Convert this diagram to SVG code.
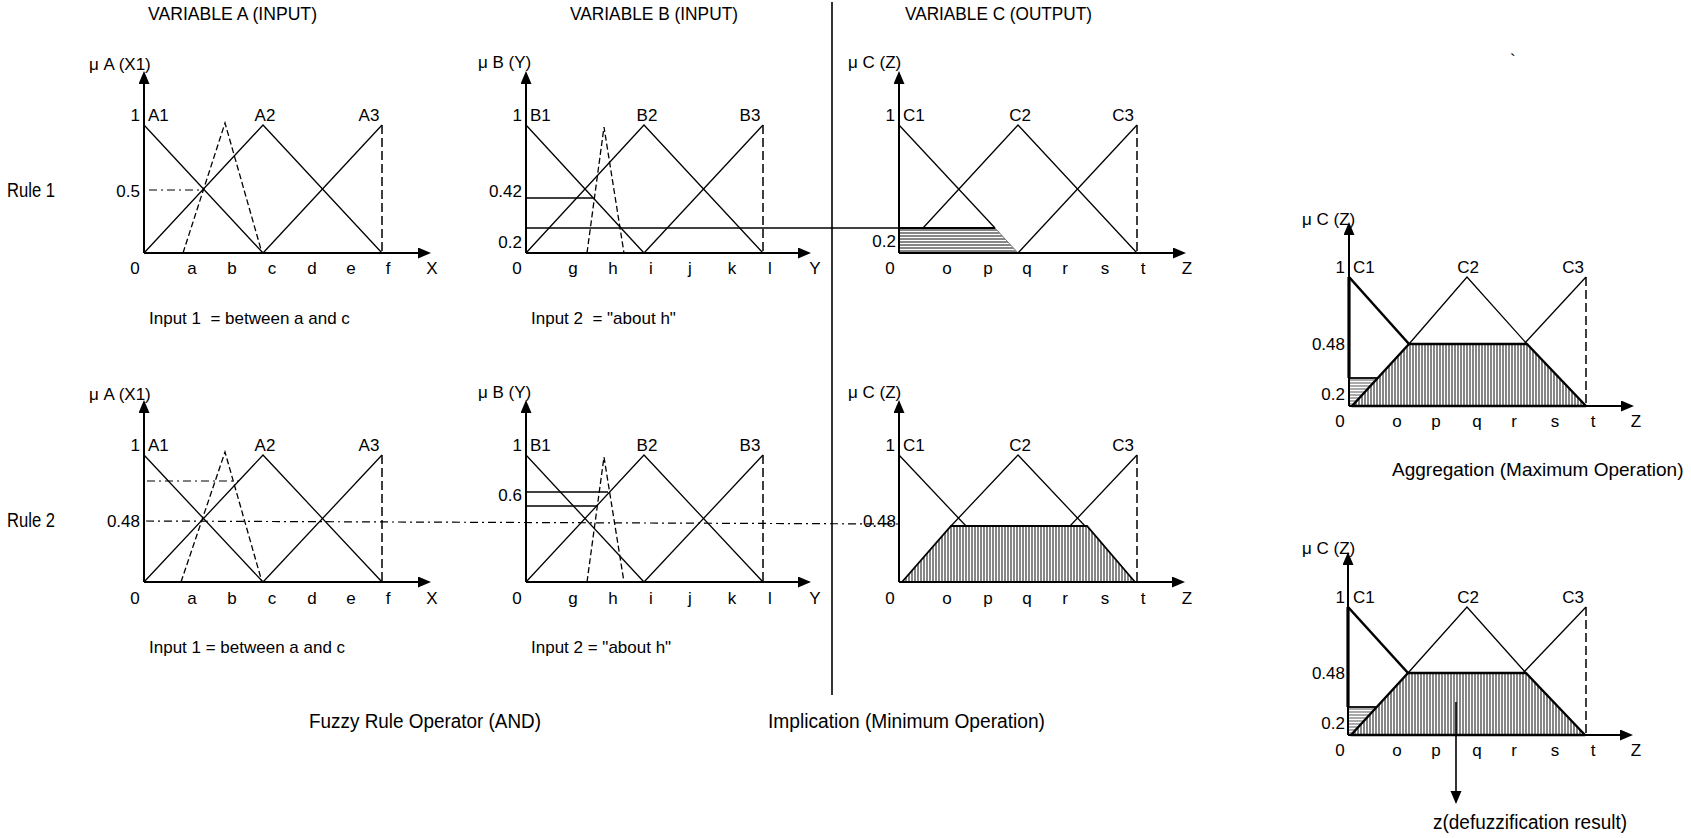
<svg xmlns="http://www.w3.org/2000/svg" width="1691" height="838" viewBox="0 0 1691 838">
  <style>
    text { font-family: "Liberation Sans", Arial, sans-serif; font-size: 17px; fill: #000; }
    .cap { font-size: 20px; }
    .cap19 { font-size: 19px; }
    .ttl { font-size: 18.5px; }
    .rule { font-size: 19.5px; }
    .e { text-anchor: end; }
    .m { text-anchor: middle; }
    .ax { stroke: #000; stroke-width: 2; fill: none; }
    .mf { stroke: #000; stroke-width: 1.3; fill: none; }
    .bold { stroke: #000; stroke-width: 2.6; fill: none; }
    .dsh { stroke: #000; stroke-width: 1.5; stroke-dasharray: 9 4; fill: none; }
    .inp { stroke: #000; stroke-width: 1.3; stroke-dasharray: 6 3; fill: none; }
    .dd { stroke: #000; stroke-width: 1.2; stroke-dasharray: 8 4 2 4; fill: none; }
    .lvl { stroke: #000; stroke-width: 1.3; fill: none; }
    .sep { stroke: #000; stroke-width: 1.6; }
  </style>
  <defs>
    <marker id="ah" markerUnits="userSpaceOnUse" markerWidth="14" markerHeight="12" refX="0" refY="5.5" orient="auto">
      <path d="M0,0 L13,5.5 L0,11 z" fill="#000"/>
    </marker>
    <pattern id="vhatch" width="3" height="10" patternUnits="userSpaceOnUse">
      <rect width="3" height="10" fill="#fff"/>
      <line x1="1" y1="0" x2="1" y2="10" stroke="#222" stroke-width="1.1"/>
    </pattern>
    <pattern id="hhatch" width="10" height="3" patternUnits="userSpaceOnUse">
      <rect width="10" height="3" fill="#fff"/>
      <line x1="0" y1="1" x2="10" y2="1" stroke="#222" stroke-width="1.1"/>
    </pattern>
    <pattern id="hhatch-light" width="10" height="3" patternUnits="userSpaceOnUse">
      <rect width="10" height="3" fill="#fff"/>
      <line x1="0" y1="1" x2="10" y2="1" stroke="#555" stroke-width="1"/>
    </pattern>
  </defs>

  <rect width="1691" height="838" fill="#fff"/>

  <!-- column headings and row labels -->
  <g id="headings">
    <text class="ttl" x="148" y="20" textLength="169" lengthAdjust="spacingAndGlyphs">VARIABLE A (INPUT)</text>
    <text class="ttl" x="570" y="20" textLength="168" lengthAdjust="spacingAndGlyphs">VARIABLE B (INPUT)</text>
    <text class="ttl" x="905" y="20" textLength="187" lengthAdjust="spacingAndGlyphs">VARIABLE C (OUTPUT)</text>
    <text x="1510" y="66">`</text>
    <text class="rule" x="7" y="197" textLength="48" lengthAdjust="spacingAndGlyphs">Rule 1</text>
    <text class="rule" x="7" y="527" textLength="48" lengthAdjust="spacingAndGlyphs">Rule 2</text>
  </g>

  <!-- separator between inputs and output -->
  <line class="sep" x1="832" y1="2" x2="832" y2="695"/>

  <!-- connectors carrying the rule strengths across charts -->
  <g id="connectors">
    <line class="lvl" x1="526" y1="228" x2="899" y2="228"/>
    <line class="dd" x1="146" y1="521" x2="899" y2="524"/>
  </g>

  <!-- Rule 1, variable A -->
  <g id="var-a-rule1" transform="translate(144,253)">
    <line class="ax" x1="0" y1="0" x2="0" y2="-169" marker-end="url(#ah)"/>
    <line class="ax" x1="0" y1="0" x2="274" y2="0" marker-end="url(#ah)"/>
    <polyline class="mf" points="0,-128 119,0"/>
    <polyline class="mf" points="0,0 119,-128 238,0"/>
    <polyline class="mf" points="119,0 238,-128"/>
    <line class="dsh" x1="238" y1="-128" x2="238" y2="0"/>
    <polyline class="inp" points="39,0 81,-130 118,0"/>
    <line class="dd" x1="5" y1="-63" x2="59" y2="-63"/>
    <text x="-55" y="-183">μ A (X1)</text>
    <text class="e" x="-4" y="-132">1</text>
    <text x="4" y="-132">A1</text>
    <text class="m" x="121" y="-132">A2</text>
    <text class="m" x="225" y="-132">A3</text>
    <text class="e" x="-4" y="-56">0.5</text>
    <text class="m" x="-9" y="21">0</text>
    <text class="m" x="48" y="21">a</text>
    <text class="m" x="88" y="21">b</text>
    <text class="m" x="128" y="21">c</text>
    <text class="m" x="168" y="21">d</text>
    <text class="m" x="207" y="21">e</text>
    <text class="m" x="244" y="21">f</text>
    <text class="m" x="288" y="21">X</text>
    <text x="5" y="71">Input 1 &#160;= between a and c</text>
  </g>

  <!-- Rule 1, variable B -->
  <g id="var-b-rule1" transform="translate(526,253)">
    <line class="ax" x1="0" y1="0" x2="0" y2="-169" marker-end="url(#ah)"/>
    <line class="ax" x1="0" y1="0" x2="272" y2="0" marker-end="url(#ah)"/>
    <polyline class="mf" points="0,-128 118,0"/>
    <polyline class="mf" points="0,0 118,-128 237,0"/>
    <polyline class="mf" points="118,0 237,-128"/>
    <line class="dsh" x1="237" y1="-128" x2="237" y2="0"/>
    <polyline class="inp" points="61,0 78,-126 98,0"/>
    <line class="lvl" x1="0" y1="-55" x2="67" y2="-55"/>
    <text x="-48" y="-185">μ B (Y)</text>
    <text class="e" x="-4" y="-132">1</text>
    <text x="4" y="-132">B1</text>
    <text class="m" x="121" y="-132">B2</text>
    <text class="m" x="224" y="-132">B3</text>
    <text class="e" x="-4" y="-56">0.42</text>
    <text class="e" x="-4" y="-5">0.2</text>
    <text class="m" x="-9" y="21">0</text>
    <text class="m" x="47" y="21">g</text>
    <text class="m" x="87" y="21">h</text>
    <text class="m" x="125" y="21">i</text>
    <text class="m" x="164" y="21">j</text>
    <text class="m" x="206" y="21">k</text>
    <text class="m" x="244" y="21">l</text>
    <text class="m" x="289" y="21">Y</text>
    <text x="5" y="71">Input 2 &#160;= "about h"</text>
  </g>

  <!-- Rule 1, variable C (clipped at 0.2) -->
  <g id="var-c-rule1" transform="translate(899,253)">
    <polygon points="0,-25 96,-25 119,0 0,0" fill="url(#hhatch)" stroke="#777" stroke-width="1"/>
    <line class="bold" x1="0" y1="-25" x2="96" y2="-25" style="stroke-width:1.8"/>
    <line class="ax" x1="0" y1="0" x2="0" y2="-169" marker-end="url(#ah)"/>
    <line class="ax" x1="0" y1="0" x2="274" y2="0" marker-end="url(#ah)"/>
    <polyline class="mf" points="0,-128 96,-25"/>
    <polyline class="mf" points="24,-25 119,-128 238,0"/>
    <polyline class="mf" points="119,0 238,-128"/>
    <line class="dsh" x1="238" y1="-128" x2="238" y2="0"/>
    <text x="-51" y="-185">μ C (Z)</text>
    <text class="e" x="-4" y="-132">1</text>
    <text x="4" y="-132">C1</text>
    <text class="m" x="121" y="-132">C2</text>
    <text class="m" x="224" y="-132">C3</text>
    <text class="e" x="-3" y="-6">0.2</text>
    <text class="m" x="-9" y="21">0</text>
    <text class="m" x="48" y="21">o</text>
    <text class="m" x="89" y="21">p</text>
    <text class="m" x="128" y="21">q</text>
    <text class="m" x="166" y="21">r</text>
    <text class="m" x="206" y="21">s</text>
    <text class="m" x="244" y="21">t</text>
    <text class="m" x="288" y="21">Z</text>
  </g>

  <!-- Rule 2, variable A -->
  <g id="var-a-rule2" transform="translate(144,582)">
    <line class="ax" x1="0" y1="0" x2="0" y2="-169" marker-end="url(#ah)"/>
    <line class="ax" x1="0" y1="0" x2="274" y2="0" marker-end="url(#ah)"/>
    <polyline class="mf" points="0,-127 119,0"/>
    <polyline class="mf" points="0,0 119,-127 238,0"/>
    <polyline class="mf" points="119,0 238,-127"/>
    <line class="dsh" x1="238" y1="-127" x2="238" y2="0"/>
    <polyline class="inp" points="37,0 81,-130 118,0"/>
    <line class="dd" x1="3" y1="-101" x2="95" y2="-101"/>
    <text x="-55" y="-182">μ A (X1)</text>
    <text class="e" x="-4" y="-131">1</text>
    <text x="4" y="-131">A1</text>
    <text class="m" x="121" y="-131">A2</text>
    <text class="m" x="225" y="-131">A3</text>
    <text class="e" x="-4" y="-55">0.48</text>
    <text class="m" x="-9" y="22">0</text>
    <text class="m" x="48" y="22">a</text>
    <text class="m" x="88" y="22">b</text>
    <text class="m" x="128" y="22">c</text>
    <text class="m" x="168" y="22">d</text>
    <text class="m" x="207" y="22">e</text>
    <text class="m" x="244" y="22">f</text>
    <text class="m" x="288" y="22">X</text>
    <text x="5" y="71">Input 1 = between a and c</text>
  </g>

  <!-- Rule 2, variable B -->
  <g id="var-b-rule2" transform="translate(526,582)">
    <line class="ax" x1="0" y1="0" x2="0" y2="-169" marker-end="url(#ah)"/>
    <line class="ax" x1="0" y1="0" x2="272" y2="0" marker-end="url(#ah)"/>
    <polyline class="mf" points="0,-127 118,0"/>
    <polyline class="mf" points="0,0 118,-127 237,0"/>
    <polyline class="mf" points="118,0 237,-127"/>
    <line class="dsh" x1="237" y1="-127" x2="237" y2="0"/>
    <polyline class="inp" points="61,0 78,-125 98,0"/>
    <line class="lvl" x1="0" y1="-90" x2="82" y2="-90"/>
    <line class="lvl" x1="0" y1="-76" x2="71" y2="-76"/>
    <text x="-48" y="-184">μ B (Y)</text>
    <text class="e" x="-4" y="-131">1</text>
    <text x="4" y="-131">B1</text>
    <text class="m" x="121" y="-131">B2</text>
    <text class="m" x="224" y="-131">B3</text>
    <text class="e" x="-4" y="-81">0.6</text>
    <text class="m" x="-9" y="22">0</text>
    <text class="m" x="47" y="22">g</text>
    <text class="m" x="87" y="22">h</text>
    <text class="m" x="125" y="22">i</text>
    <text class="m" x="164" y="22">j</text>
    <text class="m" x="206" y="22">k</text>
    <text class="m" x="244" y="22">l</text>
    <text class="m" x="289" y="22">Y</text>
    <text x="5" y="71">Input 2 = "about h"</text>
  </g>

  <!-- Rule 2, variable C (clipped at 0.48) -->
  <g id="var-c-rule2" transform="translate(899,582)">
    <polygon points="3,0 52,-56 188,-56 236,0" fill="url(#vhatch)" stroke="#000" stroke-width="1.8"/>
    <line class="ax" x1="0" y1="0" x2="0" y2="-169" marker-end="url(#ah)"/>
    <line class="ax" x1="0" y1="0" x2="273" y2="0" marker-end="url(#ah)"/>
    <polyline class="mf" points="0,-127 67,-56"/>
    <polyline class="mf" points="52,-56 119,-127 186,-56"/>
    <polyline class="mf" points="171,-56 238,-127"/>
    <line class="dsh" x1="238" y1="-127" x2="238" y2="0"/>
    <text x="-51" y="-184">μ C (Z)</text>
    <text class="e" x="-4" y="-131">1</text>
    <text x="4" y="-131">C1</text>
    <text class="m" x="121" y="-131">C2</text>
    <text class="m" x="224" y="-131">C3</text>
    <text class="e" x="-3" y="-55">0.48</text>
    <text class="m" x="-9" y="22">0</text>
    <text class="m" x="48" y="22">o</text>
    <text class="m" x="89" y="22">p</text>
    <text class="m" x="128" y="22">q</text>
    <text class="m" x="166" y="22">r</text>
    <text class="m" x="206" y="22">s</text>
    <text class="m" x="244" y="22">t</text>
    <text class="m" x="288" y="22">Z</text>
  </g>

  <!-- Aggregation of the clipped outputs -->
  <g id="aggregation" transform="translate(1349,406)">
    <polygon points="0,-28 28,-28 3,0 0,0" fill="url(#hhatch-light)"/>
    <line class="bold" x1="0" y1="-28" x2="28" y2="-28" style="stroke-width:1.8"/>
    <polygon points="3,0 60,-62 178,-62 237,0" fill="url(#vhatch)" stroke="#000" stroke-width="2.4" stroke-linejoin="round"/>
    <line class="ax" x1="0" y1="0" x2="0" y2="-171" marker-end="url(#ah)"/>
    <line class="ax" x1="0" y1="0" x2="272" y2="0" marker-end="url(#ah)"/>
    <line class="bold" x1="0" y1="-129" x2="0" y2="-28" style="stroke-width:3.2"/>
    <line class="bold" x1="0" y1="-129" x2="60" y2="-62"/>
    <polyline class="mf" points="60,-62 118,-129 178,-62"/>
    <polyline class="mf" points="175,-62 237,-129"/>
    <line class="dsh" x1="237" y1="-129" x2="237" y2="0"/>
    <text x="-47" y="-181">μ C (Z)</text>
    <text class="e" x="-4" y="-133">1</text>
    <text x="4" y="-133">C1</text>
    <text class="m" x="119" y="-133">C2</text>
    <text class="m" x="224" y="-133">C3</text>
    <text class="e" x="-4" y="-56">0.48</text>
    <text class="e" x="-4" y="-6">0.2</text>
    <text class="m" x="-9" y="21">0</text>
    <text class="m" x="48" y="21">o</text>
    <text class="m" x="87" y="21">p</text>
    <text class="m" x="128" y="21">q</text>
    <text class="m" x="165" y="21">r</text>
    <text class="m" x="206" y="21">s</text>
    <text class="m" x="244" y="21">t</text>
    <text class="m" x="287" y="21">Z</text>
    <text class="cap19" x="43" y="70">Aggregation (Maximum Operation)</text>
  </g>

  <!-- Defuzzification of the aggregated set -->
  <g id="defuzzification" transform="translate(1348,735)">
    <polygon points="0,-28 28,-28 3,0 0,0" fill="url(#hhatch-light)"/>
    <line class="bold" x1="0" y1="-28" x2="28" y2="-28" style="stroke-width:1.8"/>
    <polygon points="3,0 60,-62 178,-62 237,0" fill="url(#vhatch)" stroke="#000" stroke-width="2.4" stroke-linejoin="round"/>
    <line class="ax" x1="0" y1="0" x2="0" y2="-170" marker-end="url(#ah)"/>
    <line class="ax" x1="0" y1="0" x2="272" y2="0" marker-end="url(#ah)"/>
    <line class="bold" x1="0" y1="-128" x2="0" y2="-28" style="stroke-width:3.2"/>
    <line class="bold" x1="0" y1="-128" x2="60" y2="-62"/>
    <polyline class="mf" points="60,-62 119,-128 178,-62"/>
    <polyline class="mf" points="175,-62 238,-128"/>
    <line class="dsh" x1="238" y1="-128" x2="238" y2="0"/>
    <line x1="108" y1="-33" x2="108" y2="56" stroke="#000" stroke-width="1.6" marker-end="url(#ah)"/>
    <text x="-46" y="-181">μ C (Z)</text>
    <text class="e" x="-3" y="-132">1</text>
    <text x="5" y="-132">C1</text>
    <text class="m" x="120" y="-132">C2</text>
    <text class="m" x="225" y="-132">C3</text>
    <text class="e" x="-3" y="-56">0.48</text>
    <text class="e" x="-3" y="-6">0.2</text>
    <text class="m" x="-8" y="21">0</text>
    <text class="m" x="49" y="21">o</text>
    <text class="m" x="88" y="21">p</text>
    <text class="m" x="129" y="21">q</text>
    <text class="m" x="166" y="21">r</text>
    <text class="m" x="207" y="21">s</text>
    <text class="m" x="245" y="21">t</text>
    <text class="m" x="288" y="21">Z</text>
    <text class="cap" x="85" y="94" textLength="194" lengthAdjust="spacingAndGlyphs">z(defuzzification result)</text>
  </g>

  <!-- operation captions -->
  <g id="captions">
    <text class="cap" x="309" y="728" textLength="232" lengthAdjust="spacingAndGlyphs">Fuzzy Rule Operator (AND)</text>
    <text class="cap" x="768" y="728" textLength="277" lengthAdjust="spacingAndGlyphs">Implication (Minimum Operation)</text>
  </g>
</svg>
